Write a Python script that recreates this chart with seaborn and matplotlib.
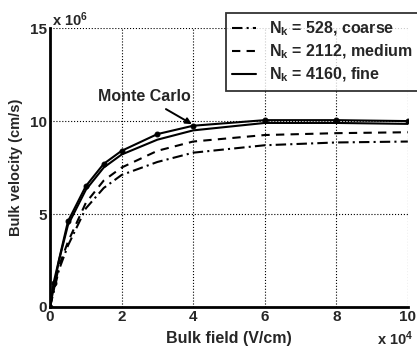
import matplotlib
matplotlib.use("Agg")
import matplotlib.pyplot as plt
import seaborn as sns
import pandas as pd

sns.set_style("white")
plt.rcParams['font.family'] = ['Liberation Sans', 'DejaVu Sans']
plt.rcParams['font.weight'] = 'bold'
plt.rcParams['mathtext.default'] = 'bf'
plt.rcParams['mathtext.fontset'] = 'custom'
plt.rcParams['mathtext.bf'] = 'Liberation Sans:bold'
plt.rcParams['mathtext.rm'] = 'Liberation Sans:bold'

field = [0, 0.25, 0.5, 1, 1.5, 2, 3, 4, 6, 8, 10]
coarse = [0, 2.0, 3.3, 5.3, 6.4, 7.1, 7.8, 8.3, 8.7, 8.85, 8.9]
medium = [0, 2.2, 3.5, 5.6, 6.8, 7.5, 8.4, 8.9, 9.25, 9.35, 9.4]
fine = [0, 2.5, 4.4, 6.3, 7.5, 8.2, 9.0, 9.5, 9.9, 9.9, 9.85]
mc_field = [0, 0.1, 0.5, 1, 1.5, 2, 3, 4, 6, 8, 10]
mc_vel = [0, 1.3, 4.6, 6.5, 7.7, 8.4, 9.3, 9.75, 10.05, 10.05, 10.0]
labels = ["$N_k$ = 528, coarse", "$N_k$ = 2112, medium", "$N_k$ = 4160, fine"]
xticks = [0, 2, 4, 6, 8, 10]
xticklabels = ["0", "2", "4", "6", "8", "10"]
yticks = [0, 5, 10, 15]
yticklabels = ["0", "5", "10", "15"]

fig = plt.figure(figsize=(4.17, 3.52), dpi=100)
ax = fig.add_axes([0.12, 0.128, 0.858, 0.792])

series = [(coarse, (0, (5, 2, 1, 2)), labels[0]),
          (medium, (0, (4, 3)), labels[1]),
          (fine, '-', labels[2])]
for vals, ls, lab in series:
    sns.lineplot(x=field, y=vals, ax=ax, color='black', linestyle=ls, lw=1.5, label=lab)
sns.lineplot(x=mc_field, y=mc_vel, ax=ax, color='black', lw=1.5, marker='o', markersize=3.5,
             markeredgecolor='black', markerfacecolor='black', label='_mc')

ax.set_xlim(0, 10)
ax.set_ylim(0, 15)
ax.set_xticks(xticks, labels=xticklabels, fontweight='heavy', fontsize=11)
ax.set_yticks(yticks, labels=yticklabels, fontweight='heavy', fontsize=11)
ax.grid(True, linestyle=':', color='black', lw=0.8)
for s in ['top', 'right']:
    ax.spines[s].set_visible(False)
for s in ['left', 'bottom']:
    ax.spines[s].set_linewidth(2)
    ax.spines[s].set_color('black')
ax.tick_params(axis='both', length=0, pad=2)
ax.set_xlabel("Bulk field (V/cm)", fontsize=11.5, fontweight='bold', labelpad=5)
ax.set_ylabel("Bulk velocity (cm/s)", fontsize=10.5, fontweight='bold', labelpad=5)

fig.text(0.125, 0.918, r"x 10$^{6}$", fontsize=10.5, fontweight='bold', ha='left', va='bottom')
fig.text(0.99, 0.012, r"x 10$^{4}$", fontsize=10.5, fontweight='bold', ha='right', va='bottom')

ax.annotate("Monte Carlo", xy=(4, 9.8), xytext=(2.65, 11.3), fontsize=11.5, fontweight='bold',
            ha='center', va='center',
            arrowprops=dict(arrowstyle='-|>', color='black', lw=1.4, mutation_scale=9,
                            shrinkA=2, shrinkB=1))

h, l = ax.get_legend_handles_labels()
ax.get_legend().remove()
leg = fig.legend(h[:3], l[:3], loc='upper right', bbox_to_anchor=(1.005, 0.963),
                 fontsize=11.5, frameon=True, fancybox=False, handlelength=1.5,
                 handletextpad=0.8, labelspacing=0.3, borderpad=0.4, borderaxespad=0)
leg.get_frame().set_edgecolor('black')
leg.get_frame().set_linewidth(1.3)
for t in leg.get_texts():
    t.set_fontweight('bold')

fig.savefig("out.png", dpi=100)
